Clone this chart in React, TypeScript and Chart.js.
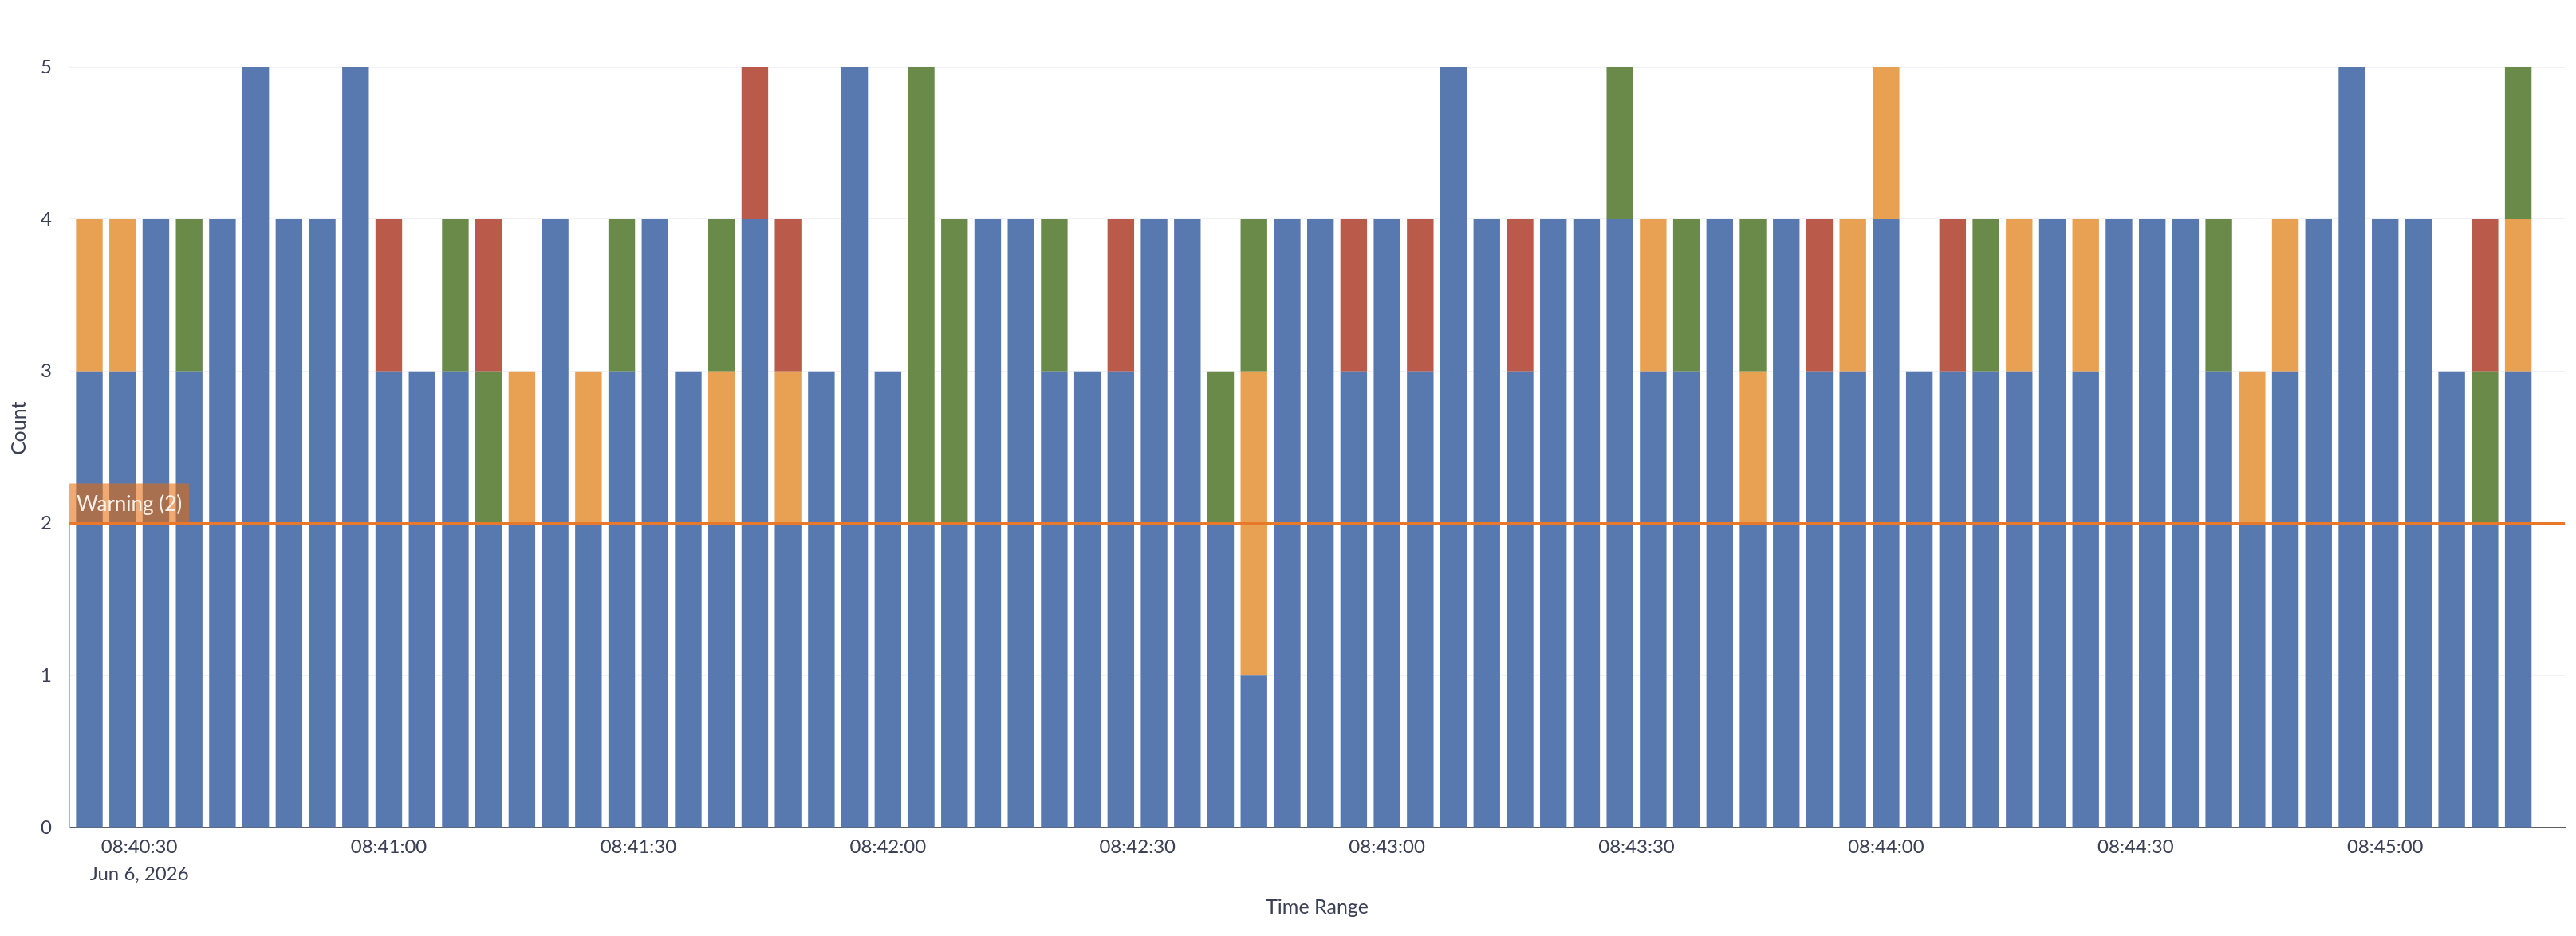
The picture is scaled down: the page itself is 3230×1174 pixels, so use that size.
import React, { useEffect, useRef } from 'react';
import { Chart, registerables } from 'chart.js';

Chart.register(...registerables);

// Bar bins (centre time of each 4-second bin)
const BAR_TIMES = [
  '08:40:24', '08:40:28', '08:40:32', '08:40:36', '08:40:40', '08:40:44', '08:40:48', '08:40:52', '08:40:56',
  '08:41:00', '08:41:04', '08:41:08', '08:41:12', '08:41:16', '08:41:20', '08:41:24', '08:41:28', '08:41:32',
  '08:41:36', '08:41:40', '08:41:44', '08:41:48', '08:41:52', '08:41:56',
  '08:42:00', '08:42:04', '08:42:08', '08:42:12', '08:42:16', '08:42:20', '08:42:24', '08:42:28', '08:42:32',
  '08:42:36', '08:42:40', '08:42:44', '08:42:48', '08:42:52', '08:42:56',
  '08:43:00', '08:43:04', '08:43:08', '08:43:12', '08:43:16', '08:43:20', '08:43:24', '08:43:28', '08:43:32',
  '08:43:36', '08:43:40', '08:43:44', '08:43:48', '08:43:52', '08:43:56',
  '08:44:00', '08:44:04', '08:44:08', '08:44:12', '08:44:16', '08:44:20', '08:44:24', '08:44:28', '08:44:32',
  '08:44:36', '08:44:40', '08:44:44', '08:44:48', '08:44:52', '08:44:56',
  '08:45:00', '08:45:04', '08:45:08', '08:45:12', '08:45:16',
];

// Series values (stack order bottom -> top)
const INFO = [
  3, 3, 4, 3, 4, 5, 4, 4, 5, 3,
  3, 3, 2, 2, 4, 2, 3, 4, 3, 2,
  4, 2, 3, 5, 3, 2, 2, 4, 4, 3,
  3, 3, 4, 4, 2, 1, 4, 4, 3, 4,
  3, 5, 4, 3, 4, 4, 4, 3, 3, 4,
  2, 4, 3, 3, 4, 3, 3, 3, 3, 4,
  3, 4, 4, 4, 3, 2, 3, 4, 5, 4,
  4, 3, 2, 3,
];
const WARN = [
  1, 1, 0, 0, 0, 0, 0, 0, 0, 0,
  0, 0, 0, 1, 0, 1, 0, 0, 0, 1,
  0, 1, 0, 0, 0, 0, 0, 0, 0, 0,
  0, 0, 0, 0, 0, 2, 0, 0, 0, 0,
  0, 0, 0, 0, 0, 0, 0, 1, 0, 0,
  1, 0, 0, 1, 1, 0, 0, 0, 1, 0,
  1, 0, 0, 0, 0, 1, 1, 0, 0, 0,
  0, 0, 0, 1,
];
const OK = [
  0, 0, 0, 1, 0, 0, 0, 0, 0, 0,
  0, 1, 1, 0, 0, 0, 1, 0, 0, 1,
  0, 0, 0, 0, 0, 3, 2, 0, 0, 1,
  0, 0, 0, 0, 1, 1, 0, 0, 0, 0,
  0, 0, 0, 0, 0, 0, 1, 0, 1, 0,
  1, 0, 0, 0, 0, 0, 0, 1, 0, 0,
  0, 0, 0, 0, 1, 0, 0, 0, 0, 0,
  0, 0, 1, 1,
];
const ERR = [
  0, 0, 0, 0, 0, 0, 0, 0, 0, 1,
  0, 0, 1, 0, 0, 0, 0, 0, 0, 0,
  1, 1, 0, 0, 0, 0, 0, 0, 0, 0,
  0, 1, 0, 0, 0, 0, 0, 0, 1, 0,
  1, 0, 0, 1, 0, 0, 0, 0, 0, 0,
  0, 0, 1, 0, 0, 0, 1, 0, 0, 0,
  0, 0, 0, 0, 0, 0, 0, 0, 0, 0,
  0, 0, 1, 0,
];

const SERIES_NAMES = ['Info', 'Warning', 'Success', 'Error'];
const SERIES_COLORS = ['#5878b0', '#e8a152', '#6a8a4a', '#b95a4a'];

const TICK_TIMES = [
  '08:40:30', '08:41:00', '08:41:30', '08:42:00', '08:42:30',
  '08:43:00', '08:43:30', '08:44:00', '08:44:30', '08:45:00',
];
const DATE_LABEL = 'Jun 6, 2026';
const RANGE_START = '08:40:21.6';
const RANGE_END = '08:45:21.6';

const Y_MAX = 5.25;
const WARNING_LEVEL = 2;
const WARNING_TEXT = 'Warning (2)';

const X_TITLE = 'Time Range';
const Y_TITLE = 'Count';

const TEXT_COLOR = '#3b4054';
const FONT = 'Lato';

function toSec(t: string): number {
  const [h, m, s] = t.split(':');
  return Number(h) * 3600 + Number(m) * 60 + parseFloat(s);
}

const TICK_SECS = TICK_TIMES.map(toSec);

const warningPlugin = {
  id: 'warningLine',
  afterDatasetsDraw(chart: any) {
    const { ctx, chartArea, scales } = chart;
    const y = scales.y.getPixelForValue(WARNING_LEVEL);
    const y0 = scales.y.getPixelForValue(0);
    ctx.save();
    // thin left edge of the threshold zone
    ctx.strokeStyle = '#a9b6d3';
    ctx.lineWidth = 1;
    ctx.beginPath();
    ctx.moveTo(chartArea.left + 0.5, y);
    ctx.lineTo(chartArea.left + 0.5, y0);
    ctx.stroke();

    ctx.font = `26px ${FONT}`;
    const tw = ctx.measureText(WARNING_TEXT).width;
    const padX = 9;
    const boxH = 50;
    ctx.fillStyle = 'rgba(228,106,10,0.58)';
    ctx.fillRect(chartArea.left, y - boxH, tw + padX * 2, boxH);
    ctx.fillStyle = '#f8f0e8';
    ctx.textBaseline = 'middle';
    ctx.textAlign = 'left';
    ctx.fillText(WARNING_TEXT, chartArea.left + padX, y - boxH / 2 + 1);
    ctx.strokeStyle = '#e8782c';
    ctx.lineWidth = 3;
    ctx.beginPath();
    ctx.moveTo(chartArea.left, y);
    ctx.lineTo(chartArea.right, y);
    ctx.stroke();
    ctx.restore();
  },
};

export default function App() {
  const ref = useRef<HTMLCanvasElement | null>(null);

  useEffect(() => {
    document.body.style.margin = '0';
    const canvas = ref.current;
    if (!canvas) return;
    const values = [INFO, WARN, OK, ERR];
    const chart = new Chart(canvas, {
      type: 'bar',
      data: {
        datasets: values.map((arr, k) => ({
          label: SERIES_NAMES[k],
          data: BAR_TIMES.map((t, i) => ({ x: toSec(t), y: arr[i] })),
          backgroundColor: SERIES_COLORS[k],
          borderWidth: 0,
          barPercentage: 0.8,
          categoryPercentage: 1,
        })),
      },
      plugins: [warningPlugin],
      options: {
        responsive: false,
        animation: false,
        layout: { padding: { left: 0, right: 14, top: 30, bottom: 0 } },
        plugins: {
          legend: { display: false },
          tooltip: { enabled: false },
        },
        scales: {
          x: {
            type: 'linear',
            stacked: true,
            offset: false,
            min: toSec(RANGE_START),
            max: toSec(RANGE_END),
            grid: { display: false, drawTicks: false },
            border: { display: true, color: '#5f5f5f', width: 2 },
            afterBuildTicks: (s: any) => {
              s.ticks = TICK_SECS.map((v) => ({ value: v }));
            },
            afterFit: (s: any) => {
              s.height = 136;
            },
            ticks: {
              autoSkip: false,
              maxRotation: 0,
              minRotation: 0,
              padding: 7,
              color: TEXT_COLOR,
              font: { family: FONT, size: 24, lineHeight: 1.42 },
              callback: (value: any) => {
                const i = TICK_SECS.indexOf(Number(value));
                if (i < 0) return '';
                return i === 0 ? [TICK_TIMES[0], DATE_LABEL] : TICK_TIMES[i];
              },
            },
            title: {
              display: true,
              text: X_TITLE,
              color: TEXT_COLOR,
              font: { family: FONT, size: 25 },
              padding: { top: 0, bottom: 21 },
            },
          },
          y: {
            stacked: true,
            min: 0,
            max: Y_MAX,
            grid: { color: '#f1f2f7', drawTicks: false },
            border: { display: false },
            afterFit: (s: any) => {
              s.width = 87;
            },
            ticks: {
              stepSize: 1,
              includeBounds: false,
              padding: 22,
              color: TEXT_COLOR,
              font: { family: FONT, size: 24 },
            },
            title: {
              display: true,
              text: Y_TITLE,
              color: TEXT_COLOR,
              font: { family: FONT, size: 25 },
              padding: { top: 9, bottom: 0 },
            },
          },
        },
      } as any,
    });
    return () => chart.destroy();
  }, []);

  return (
    <canvas
      ref={ref}
      width={3230}
      height={1174}
      style={{ display: 'block', width: 3230, height: 1174 }}
    />
  );
}
